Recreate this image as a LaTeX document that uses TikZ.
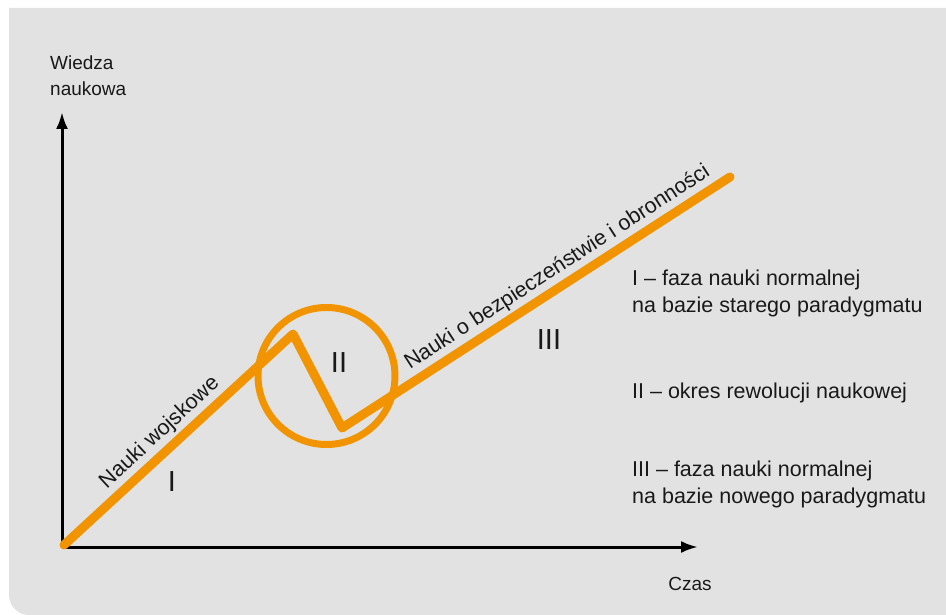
\documentclass[tikz,border=0pt]{standalone}
\usepackage{fontspec}
\setmainfont{Liberation Sans}
\usetikzlibrary{arrows.meta,positioning}
\definecolor{panelgray}{RGB}{226,226,226}
\definecolor{trendorange}{RGB}{242,148,0}
\definecolor{textblack}{RGB}{25,25,25}
\tikzset{
  axisln/.style={-{Latex[length=17pt,width=12pt]}, line width=3pt, black},
  trendln/.style={line width=9pt, trendorange, line cap=round, line join=round},
  ringln/.style={line width=7pt, trendorange},
  lbl/.style={font=\fontsize{19}{26}\selectfont, text=textblack, inner sep=2pt},
  slopelbl/.style={font=\fontsize{21.5}{26}\selectfont, text=textblack, inner sep=2pt, sloped, above=1pt},
  legend/.style={font=\fontsize{21.5}{27}\selectfont, text=textblack, align=left, anchor=north west, inner sep=0pt},
  phase/.style={font=\fontsize{29}{30}\selectfont, text=textblack},
}

\begin{document}
\begin{tikzpicture}[x=1pt, y=-1pt]
    \useasboundingbox (0,0) rectangle (946,615);
    % panel
    \fill[panelgray] (946,8) -- (9,8) [rounded corners=20pt] -- (9,615) [sharp corners] -- (946,615) -- cycle;
    % axes
    \coordinate (O) at (62,547);
    \coordinate (ytip) at (62,112);
    \coordinate (xtip) at (698,547);
    \draw[axisln] (O) -- (ytip);
    \draw[axisln] (O) -- (xtip);
    \node[lbl, align=left, anchor=south west, inner sep=0pt] (ylab) at (50,96) {Wiedza\\naukowa};
    \node[lbl] (xlab) at (690,584) {Czas};
    % ring of the revolution
    \node[circle, ringln, draw, minimum size=137pt, inner sep=0pt] (ring) at (326.5,376) {};
    % knowledge curve
    \coordinate (start) at (64,545);
    \coordinate (peak) at (293,334);
    \coordinate (dip) at (342,428);
    \coordinate (end) at (730,177);
    \draw[trendln] (start)
      -- node[slopelbl, pos=0.47] (oldsci) {Nauki wojskowe} (peak)
      -- (dip)
      -- node[slopelbl, pos=0.58] (newsci) {Nauki o bezpieczeństwie i obronności} (end);
    % phases
    \node[phase] (ph1) at (172,482) {I};
    \node[phase] (ph2) at (339,363) {II};
    \node[phase] (ph3) at (549,340) {III};
    % legend
    \node[legend] (leg1) at (632,270) {I – faza nauki normalnej\\na bazie starego paradygmatu};
    \node[legend] (leg2) at (632,383) {II – okres rewolucji naukowej};
    \node[legend] (leg3) at (632,461) {III – faza nauki normalnej\\na bazie nowego paradygmatu};
\end{tikzpicture}
\end{document}
